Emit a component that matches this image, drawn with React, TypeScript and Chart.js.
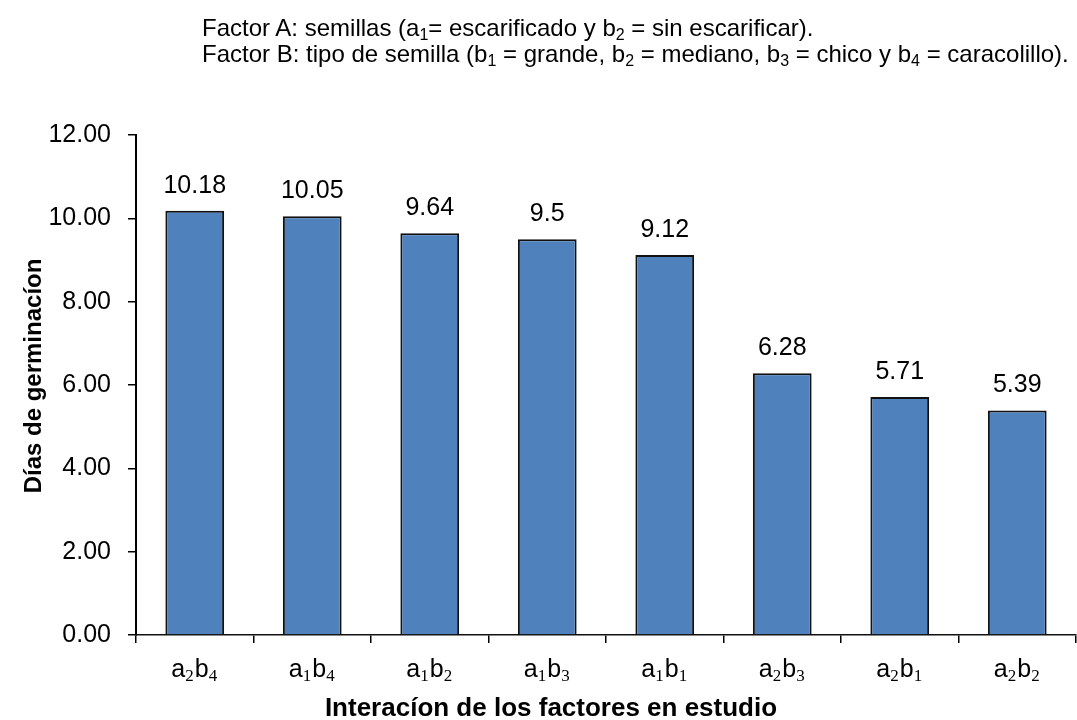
import React, { useEffect, useRef } from "react";
import { Chart, registerables } from "chart.js";

Chart.register(...registerables);

const categories = ["a₂b₄", "a₁b₄", "a₁b₂", "a₁b₃", "a₁b₁", "a₂b₃", "a₂b₁", "a₂b₂"];
const catMain = [["a", "b"], ["a", "b"], ["a", "b"], ["a", "b"], ["a", "b"], ["a", "b"], ["a", "b"], ["a", "b"]];
const catSub = [["2", "4"], ["1", "4"], ["1", "2"], ["1", "3"], ["1", "1"], ["2", "3"], ["2", "1"], ["2", "2"]];
const values = [10.18, 10.05, 9.64, 9.5, 9.12, 6.28, 5.71, 5.39];
const valueLabels = ["10.18", "10.05", "9.64", "9.5", "9.12", "6.28", "5.71", "5.39"];
const yTicks = [0, 2, 4, 6, 8, 10, 12];
const yTitle = "Días de germinacíon";
const xTitle = "Interacíon de los factores en estudio";

const MAIN_FONT = "25px Arial, 'Liberation Sans', sans-serif";
const SUB_FONT = "17px 'Liberation Serif', 'DejaVu Serif', serif";

const labelPlugin = {
  id: "customLabels",
  afterDatasetsDraw(chart: any) {
    const ctx = chart.ctx;
    const meta = chart.getDatasetMeta(0);
    const xScale = chart.scales.x;
    ctx.save();
    ctx.fillStyle = "#000";
    ctx.font = "25px Arial, 'Liberation Sans', sans-serif";
    ctx.textAlign = "center";
    ctx.textBaseline = "alphabetic";
    meta.data.forEach((bar: any, i: number) => {
      ctx.fillText(valueLabels[i], bar.x, bar.y - 18);
    });
    ctx.textAlign = "left";
    categories.forEach((_c, i) => {
      const cx = xScale.getPixelForValue(i);
      const parts: { t: string; f: string; dy: number }[] = [];
      for (let k = 0; k < catMain[i].length; k++) {
        parts.push({ t: catMain[i][k], f: MAIN_FONT, dy: 0 });
        parts.push({ t: catSub[i][k], f: SUB_FONT, dy: 4 });
      }
      let total = 0;
      const widths = parts.map((p) => {
        ctx.font = p.f;
        const w = ctx.measureText(p.t).width + (p.f === SUB_FONT ? 1 : 0);
        total += w;
        return w;
      });
      let x = cx - total / 2;
      parts.forEach((p, k) => {
        ctx.font = p.f;
        ctx.fillText(p.t, x, 677 + p.dy);
        x += widths[k];
      });
    });
    ctx.textAlign = "center";
    ctx.font = "bold 26px Arial, 'Liberation Sans', sans-serif";
    ctx.fillText(xTitle, 551, 716);
    ctx.font = "bold 24px Arial, 'Liberation Sans', sans-serif";
    ctx.translate(41, 376);
    ctx.rotate(-Math.PI / 2);
    ctx.fillText(yTitle, 0, 0);
    ctx.restore();
  },
};

function App() {
  const ref = useRef<HTMLCanvasElement>(null);
  useEffect(() => {
    const chart = new Chart(ref.current!, {
      type: "bar",
      data: {
        labels: categories,
        datasets: [
          {
            data: values,
            backgroundColor: "#4F81BD",
            borderColor: "#111",
            borderWidth: 2,
            categoryPercentage: 1,
            barPercentage: 0.5,
          },
        ],
      },
      options: {
        animation: false,
        responsive: false,
        maintainAspectRatio: false,
        layout: { padding: { top: 135, right: 1, left: 0, bottom: 0 } },
        plugins: { legend: { display: false }, tooltip: { enabled: false } },
        scales: {
          x: {
            grid: { drawOnChartArea: false, tickLength: 8, color: "#000", tickColor: "#000", lineWidth: 1.5 },
            border: { display: true, color: "#111", width: 1.5 },
            ticks: { display: false },
            afterFit(scale: any) {
              scale.height = 85;
            },
          },
          y: {
            min: 0,
            max: 12,
            afterBuildTicks(scale: any) {
              scale.ticks = yTicks.map((v) => ({ value: v }));
            },
            grid: { drawOnChartArea: false, tickLength: 8, color: "#000", tickColor: "#000", lineWidth: 1.5 },
            border: { display: true, color: "#000", width: 2 },
            ticks: {
              color: "#000",
              padding: 17,
              font: { family: "Arial, 'Liberation Sans', sans-serif", size: 25 },
              callback: (v: any) => Number(v).toFixed(2),
            },
            afterFit(scale: any) {
              scale.width = 136;
            },
          },
        },
      },
      plugins: [labelPlugin],
    });
    return () => chart.destroy();
  }, []);

  const hdr: React.CSSProperties = {
    position: "absolute",
    left: 202,
    fontFamily: "Arial, 'Liberation Sans', sans-serif",
    fontSize: 24,
    color: "#000",
    whiteSpace: "nowrap",
    lineHeight: "26px",
  };
  const sub: React.CSSProperties = { fontSize: 16, verticalAlign: "-4px", lineHeight: 0 };

  return (
    <div style={{ position: "absolute", left: 0, top: 0, width: 1077, height: 720, background: "#fff" }}>
      <canvas ref={ref} width={1077} height={720} style={{ position: "absolute", left: 0, top: 0 }} />
      <div style={{ ...hdr, top: 15 }}>
        Factor A: semillas (a<span style={sub}>1</span>= escarificado y b<span style={sub}>2</span> = sin escarificar).
      </div>
      <div style={{ ...hdr, top: 41 }}>
        Factor B: tipo de semilla (b<span style={sub}>1</span> = grande, b<span style={sub}>2</span> = mediano, b
        <span style={sub}>3</span> = chico y b<span style={sub}>4</span> = caracolillo).
      </div>
    </div>
  );
}

export default App;
